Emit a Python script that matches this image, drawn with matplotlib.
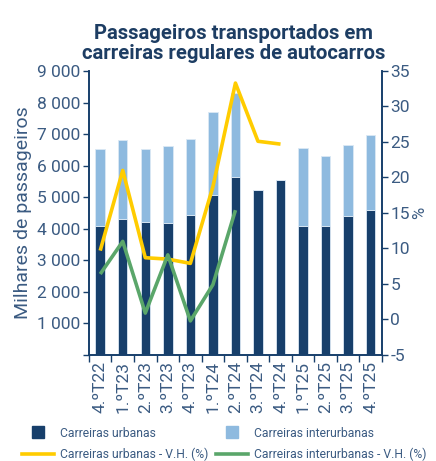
import matplotlib
matplotlib.use("Agg")
from matplotlib import pyplot as plt
from matplotlib.lines import Line2D
from matplotlib.ticker import FuncFormatter, MultipleLocator
import numpy as np

trimestres = ["4.ºT22", "1.ºT23", "2.ºT23", "3.ºT23", "4.ºT23", "1.ºT24", "2.ºT24",
              "3.ºT24", "4.ºT24", "1.ºT25", "2.ºT25", "3.ºT25", "4.ºT25"]
urbanas = [4090, 4295, 4230, 4175, 4430, 5060, 5630, 5240, 5540, 4100, 4090, 4400, 4590]
interurbanas = [2430, 2505, 2290, 2445, 2405, 2640, 2670, 0, 0, 2450, 2220, 2270, 2370]
vh_urbanas = [9.7, 21.0, 8.7, 8.5, 7.9, 18.7, 33.3, 25.1, 24.7]
vh_interurbanas = [6.4, 11.0, 0.9, 9.1, -0.2, 4.9, 15.4]

c_urb = "#173f6b"
c_inter = "#8ebadf"
c_amarelo = "#ffcc00"
c_verde = "#5aa66a"
c_texto = "#3b5b82"
c_titulo = "#1d3d63"

plt.rcParams["font.family"] = ["Roboto", "DejaVu Sans"]
plt.rcParams["axes.unicode_minus"] = False

fig = plt.figure(figsize=(4.36, 4.61), dpi=100)
ax = fig.add_axes([0.204, 0.230, 0.672, 0.616])
ax2 = ax.twinx()

x = np.arange(len(trimestres))
ax.bar(x, urbanas, width=0.42, color=c_urb, edgecolor="#dbe8f4", linewidth=0.6, zorder=2)
ax.bar(x, interurbanas, width=0.42, bottom=urbanas, color=c_inter, edgecolor="#dbe8f4",
       linewidth=0.6, zorder=2)

ax2.plot(x[:len(vh_urbanas)], vh_urbanas, color=c_amarelo, lw=2.6, solid_capstyle="butt")
ax2.plot(x[:len(vh_interurbanas)], vh_interurbanas, color=c_verde, lw=2.6, solid_capstyle="butt")

ax.set_xlim(-0.5, len(trimestres) - 0.5)
ax.set_ylim(0, 9000)
ax.yaxis.set_major_locator(MultipleLocator(1000))
ax.yaxis.set_major_formatter(FuncFormatter(lambda v, p: "" if v == 0 else f"{int(v):,}".replace(",", " ")))
ax2.set_ylim(-5, 35)
ax2.yaxis.set_major_locator(MultipleLocator(5))

ax.set_xticks(x)
ax.set_xticklabels(trimestres, rotation=90, fontsize=12.5, color=c_texto)
ax.set_xticks(np.arange(-0.5, len(trimestres)), minor=True)
ax.tick_params(axis="x", which="major", length=0, pad=4)
ax.tick_params(axis="x", which="minor", length=5, color=c_urb, width=1)

ax.tick_params(axis="y", labelsize=12.5, labelcolor=c_texto, color=c_urb, length=4, width=1, pad=2)
ax2.tick_params(axis="y", labelsize=12.5, labelcolor=c_texto, color=c_urb, length=4, width=1, pad=2)

for a in (ax, ax2):
    a.spines["top"].set_visible(False)
    for s in ("left", "right", "bottom"):
        a.spines[s].set_color(c_urb)
        a.spines[s].set_linewidth(1.2)

ax.set_ylabel("Milhares de passageiros", fontsize=14, color=c_texto, labelpad=4)
ax2.set_ylabel("%", fontsize=12, color=c_texto, labelpad=2)

fig.text(0.535, 0.905, "Passageiros transportados em\ncarreiras regulares de autocarros",
         ha="center", va="center", fontsize=14.6, fontweight="bold", color=c_titulo, linespacing=1.05)

handles = [
    Line2D([], [], marker="s", ls="none", color=c_urb, markersize=8),
    Line2D([], [], color=c_amarelo, lw=2.6),
    Line2D([], [], marker="s", ls="none", color=c_inter, markersize=8),
    Line2D([], [], color=c_verde, lw=2.6),
]
labels = ["Carreiras urbanas", "Carreiras urbanas - V.H. (%)",
          "Carreiras interurbanas", "Carreiras interurbanas - V.H. (%)"]
leg = fig.legend(handles, labels, loc="lower center", bbox_to_anchor=(0.514, -0.024), ncol=2,
                 frameon=False, fontsize=8.7, handlelength=2.65, columnspacing=0.65,
                 handletextpad=0.5, labelspacing=0.68)
for t in leg.get_texts():
    t.set_color(c_texto)

fig.savefig("out.png", dpi=100)
